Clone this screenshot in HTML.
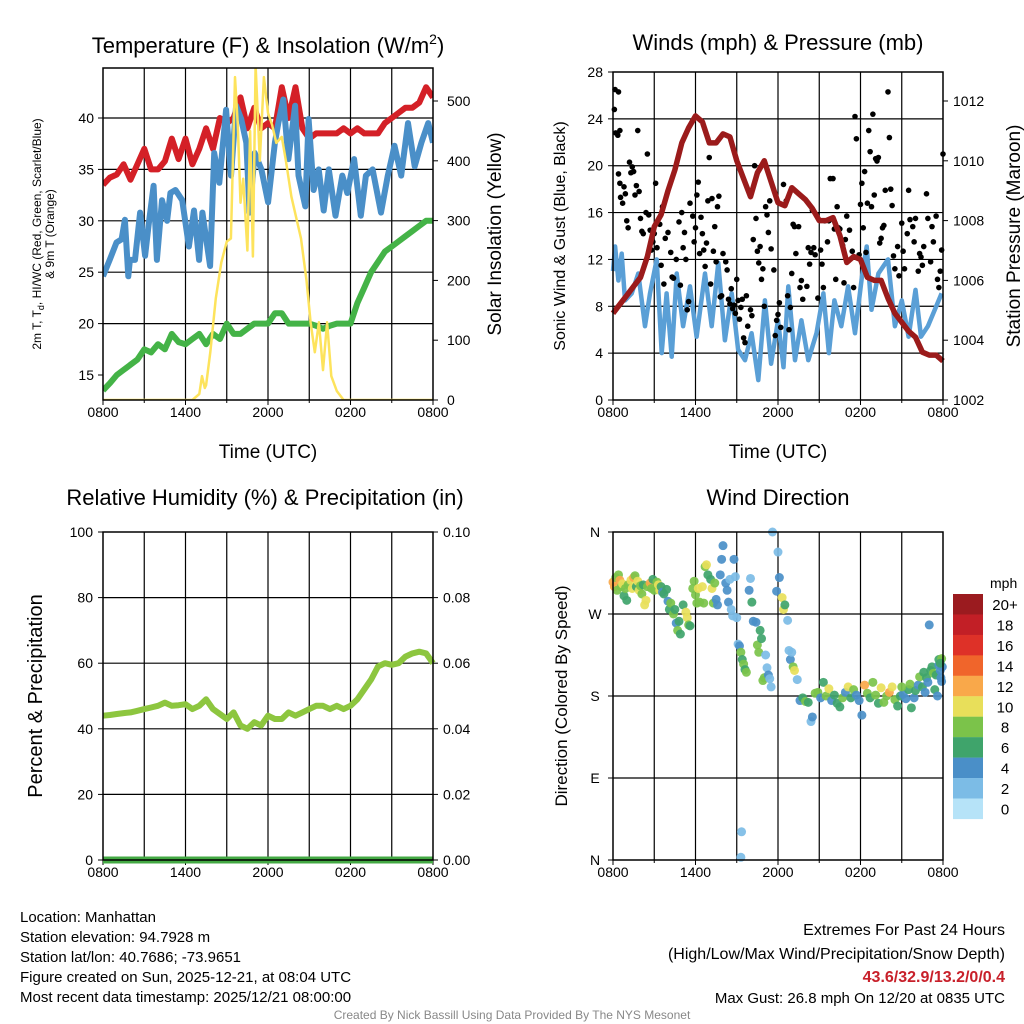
<!DOCTYPE html>
<html><head><meta charset="utf-8"><style>
body{margin:0;background:#fff;}
svg{display:block;font-family:"Liberation Sans",Arial,sans-serif;}
</style></head><body>
<svg id="c" width="1024" height="1024" viewBox="0 0 1024 1024" xmlns="http://www.w3.org/2000/svg"></svg>
<script>
// ---- data ----
const hours = [0,0.5,1,1.5,2,2.5,3,3.5,4,4.5,5,5.5,6,6.5,7,7.5,8,8.5,9,9.5,10,10.5,11,11.5,12,12.5,13,13.5,14,14.5,15,15.5,16,16.5,17,17.5,18,18.5,19,19.5,20,20.5,21,21.5,22,22.5,23,23.5,24];
const tempRed = [33.5,34.2,34.5,35.5,34,35.5,37,35,35,35.8,38,36,38,35.5,37,39,37,40,39.5,40,42,39,41,39,39.5,39,43,40,43,39,38,38.5,38.5,38.5,38.5,39,38.5,39,38.5,38.5,38.5,39.5,40,40.5,41,41,41.5,43,42];
const blueHours = [0,0.49,0.98,1.35,1.59,1.84,1.96,2.33,2.7,3.06,3.31,3.68,3.92,4.29,4.66,4.9,5.27,5.76,6.25,6.62,6.99,7.23,7.79,8.09,8.46,8.95,9.31,9.68,10.05,10.42,10.66,11.03,11.52,12.01,12.5,12.75,13.11,13.48,13.97,14.22,14.71,14.95,15.32,15.69,16.05,16.42,16.91,17.4,17.77,18.26,18.75,19.12,19.61,20.22,20.71,21.2,21.69,22.18,22.67,23.16,23.65,24];
const tempBlue = [24.6,26.2,27.9,28.2,30.1,24.6,26.2,26.2,30.8,26.6,29.5,33.4,26.2,32,30,32.7,33,32,27.5,31,26.2,30.8,25.6,36.6,33.7,40.8,34.4,41.2,39.9,37.6,30.8,36.6,35,31.8,37.6,39.5,41.8,36,41.2,34.4,31.4,39.9,33,35,31,35,30.5,34.4,32.7,36,30.5,34.4,35,30.8,34.4,37.3,34.4,39.5,35.3,37.6,39.5,37.6];
const tempGreen = [13.5,14.2,15,15.5,16,16.5,17.5,17.2,18,17.5,19,18.2,18,18.5,19,18,19,18.5,20,19,19,19.5,20,20,20,21,21,20,20,20,20,19.8,19.5,19.8,20,20,20,22,23.5,25,26,27,27.5,28,28.5,29,29.5,30,30];
const solarHours = [0,6.5,7.0,7.2,7.4,7.5,7.8,8.2,8.6,9.0,9.3,9.4,9.6,9.8,10.0,10.2,10.5,10.7,10.9,11.1,11.4,11.7,12.0,12.3,12.6,13.0,13.3,13.7,14.1,14.4,14.8,15.1,15.4,15.7,16.0,16.3,16.6,17.0,17.5,24];
const solar = [0,0,10,40,20,25,80,170,230,265,270,360,540,460,330,370,250,450,240,560,400,540,480,460,430,440,400,340,300,270,200,130,80,130,50,130,40,15,0,0];
const windHours = [0,0.15,0.39,0.63,0.87,1.36,1.84,2.33,2.69,3.18,3.54,3.9,4.27,4.63,5.1,5.6,6.08,6.69,7.18,7.66,8.14,8.63,9.1,9.6,10.08,10.57,11.05,11.5,12.0,12.4,12.75,13.24,13.7,14.2,14.8,15.3,15.7,16.1,16.6,17.1,17.6,18.1,18.45,18.8,19.3,20.0,20.5,21.0,21.5,22.0,22.4,22.9,23.4,23.9];
const windBlue = [11,13.1,10.2,12.5,8.5,9.1,10.8,6.3,9.1,12,4,9.1,3.7,10.8,6.3,9.7,5.4,10.8,6.3,11.7,5.1,9.1,4.3,3.4,5.7,1.7,8.5,3.1,6.8,2.8,9.7,3.4,6.8,3.4,5.7,9.1,4,8.5,6.3,9.7,5.7,10.5,13.1,7.7,10.8,12,6.3,8.5,5.4,9.4,5.4,6.3,7.7,9.1];
const pressure = [1004.9,1005.2,1005.5,1005.8,1006.1,1006.8,1007.8,1008.2,1009.0,1009.7,1010.6,1011.1,1011.5,1011.3,1010.6,1010.6,1010.9,1010.8,1010.0,1009.4,1008.8,1009.6,1010.0,1009.3,1008.6,1008.5,1009.1,1008.9,1008.7,1008.4,1008.0,1008.0,1008.1,1007.5,1006.6,1006.8,1006.7,1006.1,1006.0,1006.0,1005.4,1004.9,1004.6,1004.3,1004.1,1003.6,1003.5,1003.5,1003.3];
const gusts = [[0.1,24.8],[0.15,26.5],[0.4,26.3],[0.2,22.8],[0.35,22.6],[0.5,23],[0.4,19.3],[0.5,18.5],[0.55,17.3],[0.7,16.8],[0.8,18.2],[0.9,17.6],[1.0,15.3],[1.1,14.7],[1.2,20.3],[1.3,19.4],[1.4,19.9],[1.5,19.5],[1.6,17.5],[1.7,18.3],[1.8,23],[1.9,17.8],[2.0,15.5],[2.1,14.4],[2.2,14.2],[2.4,16],[2.5,21],[2.6,15.8],[2.7,14.5],[2.8,12.8],[2.9,13.5],[3.0,14.2],[3.1,18.5],[3.2,13],[3.4,15],[3.5,11.5],[3.6,16.5],[3.7,9.9],[3.8,13.8],[4.0,14.3],[4.2,12.6],[4.3,10.5],[4.4,10.4],[4.6,12],[4.8,15.2],[4.9,9.8],[5.0,16],[5.1,13],[5.2,14.3],[5.3,12],[5.4,7.7],[5.5,8.4],[5.6,16.8],[5.8,15.7],[5.9,13.5],[6.0,14.7],[6.1,17.5],[6.2,18.6],[6.3,12.5],[6.4,15.6],[6.5,14.2],[6.6,12.8],[6.7,11.4],[6.8,13.4],[6.9,17],[7.0,20.7],[7.1,9.9],[7.2,17.2],[7.3,12.7],[7.4,14.8],[7.5,11.8],[7.6,16.5],[7.7,17.4],[7.8,8.8],[7.9,8.9],[8.0,12.5],[8.2,11.8],[8.3,11.1],[8.4,8.6],[8.5,8.2],[8.6,9.5],[8.7,7.8],[8.8,8.1],[8.9,7.4],[9.0,10.3],[9.1,8.5],[9.2,6.9],[9.3,7.9],[9.4,8.6],[9.5,5.3],[9.6,4.9],[9.7,8.9],[9.8,6.3],[10.0,7.7],[10.1,7.2],[10.2,13.7],[10.3,20],[10.4,15.5],[10.5,12.7],[10.6,11.7],[10.7,13.1],[10.8,10.3],[10.9,11.2],[11.0,8],[11.1,16.5],[11.2,15.8],[11.3,14.3],[11.4,17],[11.5,12.9],[11.7,11.1],[11.8,5.5],[11.9,6.8],[12.0,7.3],[12.1,8.3],[12.2,6.2],[12.4,18.4],[12.6,17],[12.7,8.9],[12.8,6],[12.9,7.9],[13.0,10.8],[13.1,15],[13.2,14.8],[13.3,12.5],[13.5,14.8],[13.6,9.6],[13.7,10.2],[13.8,8.6],[14.1,9.7],[14.2,13],[14.3,11.6],[14.4,12.6],[14.5,16.2],[14.6,13],[14.7,12.4],[14.8,15.8],[14.9,8.7],[15.1,12.8],[15.2,11.6],[15.3,9.6],[15.4,15.3],[15.6,13.5],[15.7,15.3],[15.8,18.9],[16.0,18.9],[16.1,14.6],[16.2,10.3],[16.3,16.5],[16.4,14.7],[16.5,14.6],[16.7,13.2],[16.8,10],[16.9,13.7],[17.0,15.7],[17.2,14.5],[17.4,12.7],[17.5,9.6],[17.6,24.2],[17.7,22.3],[17.9,12.4],[18.0,16.7],[18.1,18.5],[18.2,14.7],[18.3,19.5],[18.4,12.6],[18.5,16.8],[18.6,23],[18.7,21.2],[18.8,16.5],[18.9,24.4],[19.0,17.5],[19.1,20.6],[19.2,20.4],[19.3,20.7],[19.4,13.4],[19.5,13.8],[19.6,14.7],[19.7,14.9],[19.8,17.9],[20.0,26.3],[20.1,22.4],[20.2,18],[20.3,16.6],[20.4,12.3],[20.5,11.2],[20.7,13.1],[20.8,10.6],[21.0,15.1],[21.1,12.7],[21.2,11.2],[21.4,14.2],[21.5,17.9],[21.6,15.4],[21.8,14.8],[21.9,13.5],[22.0,15.5],[22.2,11],[22.3,12.5],[22.4,12.2],[22.5,11.5],[22.6,13.1],[22.8,17.6],[22.9,15.5],[23.1,11.8],[23.2,14.8],[23.3,13.5],[23.5,15.7],[23.6,10.3],[23.7,9.6],[23.8,11],[23.9,12.8],[24.0,21]];
const rh = [44,44.2,44.5,44.8,45,45.5,46,46.5,47,48,47,47.2,47.5,46,47,49,46,44.5,43,45,41,40,42,41,44,43,43,45,44,45,46,47,47,46,47,46,47,49,52,55,59,60,59.5,60,62,63,63.5,63,60];
const precip = [0,0,0,0,0,0,0,0,0,0,0,0,0,0,0,0,0,0,0,0,0,0,0,0,0,0,0,0,0,0,0,0,0,0,0,0,0,0,0,0,0,0,0,0,0,0,0,0,0];
const dirs = [[0.0,305,12],[0.1,300,13],[0.2,310,8],[0.3,296,9],[0.4,313,8],[0.5,307,13],[0.6,300,8],[0.7,303,10],[0.8,290,7],[0.9,298,8],[1.0,285,7],[1.1,302,9],[1.3,307,10],[1.4,298,11],[1.5,310,12],[1.6,312,8],[1.7,300,7],[1.8,306,10],[1.9,296,10],[2.0,301,8],[2.1,292,8],[2.2,302,7],[2.3,280,10],[2.4,285,10],[2.5,300,9],[2.7,304,13],[2.8,298,8],[2.9,308,7],[3.0,296,9],[3.2,305,8],[3.3,302,10],[3.4,296,10],[3.5,300,7],[3.6,294,5],[3.7,292,6],[3.9,297,6],[4.0,284,4],[4.1,275,6],[4.2,282,8],[4.4,270,8],[4.5,275,6],[4.6,260,4],[4.7,252,8],[4.8,262,6],[4.9,248,6],[5.1,280,6],[5.3,272,10],[5.4,266,10],[5.5,258,8],[5.6,257,6],[5.8,298,8],[5.9,306,8],[6.0,291,8],[6.1,282,8],[6.2,298,10],[6.3,283,8],[6.5,300,10],[6.6,282,8],[6.7,322,8],[6.8,324,10],[6.9,313,6],[7.1,308,6],[7.2,298,10],[7.3,282,8],[7.4,304,8],[7.5,286,4],[7.6,280,4],[7.8,313,4],[7.9,330,4],[8.0,345,4],[8.2,304,4],[8.3,296,4],[8.4,283,4],[8.5,308,2],[8.6,275,2],[8.7,268,2],[8.8,330,4],[8.9,311,2],[9.0,266,2],[9.1,237,2],[9.2,235,4],[9.3,228,8],[9.4,220,6],[9.5,215,8],[9.6,209,6],[9.7,206,8],[9.9,296,4],[10.0,309,2],[10.1,283,6],[10.2,262,4],[10.4,261,4],[10.5,236,8],[10.6,228,8],[10.7,252,6],[10.8,243,6],[10.9,197,8],[11.0,200,8],[11.1,225,2],[11.2,211,2],[11.3,203,4],[11.4,199,2],[11.5,190,2],[11.6,360,2],[11.9,295,4],[12.0,338,2],[12.1,310,4],[12.3,288,10],[12.4,275,10],[12.5,280,6],[12.7,263,2],[12.8,230,2],[12.9,220,4],[13.0,228,2],[13.1,212,8],[13.2,208,10],[13.4,198,2],[9.35,31,2],[9.3,3,2],
[13.6,175,4],[13.8,178,6],[14.0,174,8],[14.2,173,6],[14.4,152,2],[14.5,157,4],[14.7,183,8],[14.9,184,8],[15.1,178,4],[15.3,195,6],[15.5,180,8],[15.7,188,10],[15.9,175,4],[16.1,181,6],[16.3,172,6],[16.5,168,6],[16.7,178,8],[16.9,184,4],[17.1,190,10],[17.3,178,6],[17.5,187,8],[17.7,181,4],[17.9,175,4],[18.1,159,4],[18.3,192,12],[18.5,183,8],[18.7,178,6],[18.9,195,8],[19.1,181,8],[19.3,172,6],[19.5,189,10],[19.7,173,8],[19.9,180,8],[20.1,184,12],[20.3,190,10],[20.5,176,8],[20.7,169,6],[20.9,180,6],[21.1,182,4],[21.3,177,4],[21.5,187,6],[21.6,193,8],[21.7,167,6],[21.9,178,4],[22.0,186,6],[22.2,192,4],[22.3,201,8],[22.5,190,6],[22.7,184,4],[22.8,200,6],[22.9,195,4],[23.0,258,4],[23.1,208,6],[23.2,212,6],[23.3,205,8],[23.4,187,6],[23.5,203,6],[23.6,180,4],[23.7,214,4],[23.8,208,4],[23.85,200,4],[23.9,196,4],[23.7,220,6],[23.9,221,8],[23.95,212,4],[23.8,216,6],[22.6,206,6],[21.0,190,8]];
const xTickLabels = ["0800","1400","2000","0200","0800"];
const tempTicks = [15,20,25,30,35,40];
const solarTicks = [0,100,200,300,400,500];
const windTicks = [0,4,8,12,16,20,24,28];
const presTicks = [1002,1004,1006,1008,1010,1012];
const rhTicks = [0,20,40,60,80,100];
const precipTicks = ["0.00","0.02","0.04","0.06","0.08","0.10"];
const dirTicks = ["N","E","S","W","N"];
const cbLabels = ["20+","18","16","14","12","10","8","6","4","2","0"];
const cbColors = ["#9b1b1f","#c21f26","#de3128","#f0652b","#f9a84a","#e8df5a","#7bc34a","#3fa46b","#4a8fc8","#7cbce6","#b6e3f8"];

// ---- drawing ----
const svg = document.getElementById('c');
const NS = 'http://www.w3.org/2000/svg';
function el(tag, attrs, parent){const e=document.createElementNS(NS,tag);for(const k in attrs)e.setAttribute(k,attrs[k]);(parent||svg).appendChild(e);return e;}
function txt(s,x,y,size,anchor,parent,extra){const t=el('text',Object.assign({x:x,y:y,'font-size':size,'text-anchor':anchor||'middle',fill:'#000'},extra||{}),parent);t.textContent=s;return t;}
function lin(d0,d1,r0,r1){return v=>r0+(v-d0)*(r1-r0)/(d1-d0);}

function panel(name,x0,x1,y0,y1,hGridVals,yS){
  const g=el('g',{});
  
  
  const xs=lin(0,24,x0,x1);
  for(let h=3;h<24;h+=3) el('line',{x1:xs(h),x2:xs(h),y1:y0,y2:y1,stroke:'#000','stroke-width':1.2},g);
  hGridVals.forEach(v=>el('line',{x1:x0,x2:x1,y1:yS(v),y2:yS(v),stroke:'#000','stroke-width':1.2},g));
  for(let h=0;h<=24;h+=3) el('line',{x1:xs(h),x2:xs(h),y1:y1,y2:y1+(h%6==0?5:3),stroke:'#000','stroke-width':1},g);
  xTickLabels.forEach((s,i)=>{const t=txt(s,xs(i*6),y1+17,14,'middle',g);});
  return {g,xs};
}
function frame(g,x0,x1,y0,y1){el('rect',{x:x0,y:y0,width:x1-x0,height:y1-y0,fill:'none',stroke:'#000','stroke-width':1.5},g);}
function pathOf(xsArr,ysArr,xs,ys){return xsArr.map((h,i)=>(i?'L':'M')+xs(h).toFixed(1)+','+ys(ysArr[i]).toFixed(1)).join(' ');}

// Panel 1
{
  const X0=103,X1=433,Y0=68,Y1=400;
  const ty=lin(15,40,375,118), sy=lin(0,500,400,101);
  const p=panel('temperature-panel',X0,X1,Y0,Y1,[20,25,30,35,40],ty);
  const g=p.g, xs=p.xs;
  const cp=el('clipPath',{id:'cp1'},g); el('rect',{x:X0,y:Y0,width:X1-X0,height:Y1-Y0},cp);
  const mk=(arr,col,w,nm,hx,yf)=>{const e=el('path',{d:pathOf(hx||hours,arr,xs,yf||ty),fill:'none',stroke:col,'stroke-width':w,'stroke-linejoin':'round','clip-path':'url(#cp1)'},g);};
  mk(tempGreen,'#44b347',6,'dewpoint-line');
  mk(tempRed,'#d42027',6,'temperature-line');
  mk(tempBlue,'#4a8fc8',6,'windchill-line',blueHours);
  mk(solar,'#fde35c',2.5,'solar-line',solarHours,sy);
  frame(g,X0,X1,Y0,Y1);
  tempTicks.forEach(v=>{el('line',{x1:X0-5,x2:X0,y1:ty(v),y2:ty(v),stroke:'#000'},g);const t=txt(v,X0-9,ty(v)+5,14,'end',g);});
  solarTicks.forEach(v=>{el('line',{x1:X1,x2:X1+5,y1:sy(v),y2:sy(v),stroke:'#000'},g);const t=txt(v,X1+14,sy(v)+5,14,'start',g);});
  const t1=txt('',268,53,22,'middle',g);t1.innerHTML='Temperature (F) &amp; Insolation (W/m<tspan dy="-9" font-size="14">2</tspan><tspan dy="9">)</tspan>';
  
  const xl=txt('Time (UTC)',268,458,19,'middle',g);
  const yl=el('text',{transform:'translate(41,234) rotate(-90)','font-size':12,'text-anchor':'middle'},g);yl.innerHTML='2m T, T<tspan dy="3" font-size="9">d</tspan><tspan dy="-3">, HI/WC (Red, Green, Scarlet/Blue)</tspan>';
  
  const yl2=txt('& 9m T (Orange)',0,0,12,'middle',g,{transform:'translate(54,234) rotate(-90)'});
  const yr=txt('Solar Insolation (Yellow)',0,0,19,'middle',g,{transform:'translate(501,234) rotate(-90)'});
}
// Panel 2
{
  const X0=613,X1=943,Y0=72,Y1=400;
  const wy=lin(0,28,400,72), py=lin(1002,1012,400,101);
  const p=panel('winds-panel',X0,X1,Y0,Y1,[4,8,12,16,20,24],wy);
  const g=p.g, xs=p.xs;
  const w=el('path',{d:pathOf(windHours,windBlue,xs,wy),fill:'none',stroke:'#5a9fd6','stroke-width':4.5,'stroke-linejoin':'round'},g);
  
  gusts.forEach(d=>{const c=el('circle',{cx:xs(d[0]),cy:wy(d[1]),r:2.8,fill:'#000'},g);});
  const pr=el('path',{d:pathOf(hours,pressure,xs,py),fill:'none',stroke:'#9b1b1b','stroke-width':5.5,'stroke-linejoin':'round'},g);
  
  frame(g,X0,X1,Y0,Y1);
  windTicks.forEach(v=>{el('line',{x1:X0-5,x2:X0,y1:wy(v),y2:wy(v),stroke:'#000'},g);const t=txt(v,X0-10,wy(v)+5,14,'end',g);});
  presTicks.forEach(v=>{el('line',{x1:X1,x2:X1+5,y1:py(v),y2:py(v),stroke:'#000'},g);const t=txt(v,X1+10,py(v)+5,14,'start',g);});
  const t1=txt('Winds (mph) & Pressure (mb)',778,50,22,'middle',g);
  const xl=txt('Time (UTC)',778,458,19,'middle',g);
  const yl=txt('Sonic Wind & Gust (Blue, Black)',0,0,16,'middle',g,{transform:'translate(565,236) rotate(-90)'});
  const yr=txt('Station Pressure (Maroon)',0,0,19,'middle',g,{transform:'translate(1020,236) rotate(-90)'});
}
// Panel 3
{
  const X0=103,X1=433,Y0=532,Y1=860;
  const ry=lin(0,100,860,532), qy=lin(0,0.1,860,532);
  const p=panel('humidity-panel',X0,X1,Y0,Y1,[20,40,60,80],ry);
  const g=p.g, xs=p.xs;
  const r=el('path',{d:pathOf(hours,rh,xs,ry),fill:'none',stroke:'#8dc63f','stroke-width':6,'stroke-linejoin':'round'},g);
  
  const q=el('path',{d:pathOf(hours,precip,xs,qy),fill:'none',stroke:'#44a944','stroke-width':7},g);
  
  frame(g,X0,X1,Y0,Y1);
  rhTicks.forEach(v=>{el('line',{x1:X0-5,x2:X0,y1:ry(v),y2:ry(v),stroke:'#000'},g);const t=txt(v,X0-10,ry(v)+5,14,'end',g);});
  precipTicks.forEach((s,i)=>{const y=lin(0,5,860,532)(i);el('line',{x1:X1,x2:X1+5,y1:y,y2:y,stroke:'#000'},g);const t=txt(s,X1+10,y+5,14,'start',g);});
  const t1=txt('Relative Humidity (%) & Precipitation (in)',265,505,22,'middle',g);
  const yl=txt('Percent & Precipitation',0,0,20,'middle',g,{transform:'translate(42,696) rotate(-90)'});
}
// Panel 4
{
  const X0=613,X1=943,Y0=532,Y1=860;
  const dy=lin(0,360,860,532);
  const p=panel('wind-direction-panel',X0,X1,Y0,Y1,[90,180,270],dy);
  const g=p.g, xs=p.xs;
  const colFor=s=>{let i=Math.floor(s/2);if(i>10)i=10;return cbColors[10-i];};
  dirs.forEach(d=>{const c=el('circle',{cx:xs(d[0]),cy:dy(d[1]),r:4.5,fill:colFor(d[2]),opacity:0.92},g);});
  frame(g,X0,X1,Y0,Y1);
  dirTicks.forEach((s,i)=>{const y=dy(i*90);el('line',{x1:X0-5,x2:X0,y1:y,y2:y,stroke:'#000'},g);const t=txt(s,X0-18,y+5,14,'middle',g);});
  const t1=txt('Wind Direction',778,505,22,'middle',g);
  const yl=txt('Direction (Colored By Speed)',0,0,17,'middle',g,{transform:'translate(567,696) rotate(-90)'});
  const cb=el('g',{},svg);
  
  const ut=txt('mph',990,588,14,'start',cb);
  cbColors.forEach((c,i)=>{const y=594+i*20.45;const r=el('rect',{x:953,y:y,width:30,height:20.6,fill:c},cb);
    const t=txt(cbLabels[i],1005,y+16,15,'middle',cb);});
}
// Footer
{
  const f=el('g',{},svg);
  
  ["Location: Manhattan","Station elevation: 94.7928 m","Station lat/lon: 40.7686; -73.9651","Figure created on Sun, 2025-12-21, at 08:04 UTC","Most recent data timestamp: 2025/12/21 08:00:00"].forEach((s,i)=>{const t=txt(s,20,922+i*20,15,'start',f);});
  const r1=txt('Extremes For Past 24 Hours',1005,935,16,'end',f);
  const r2=txt('(High/Low/Max Wind/Precipitation/Snow Depth)',1005,959,16,'end',f);
  const r3=txt('43.6/32.9/13.2/0/0.4',1005,982,16,'end',f,{fill:'#c8202a','font-weight':'bold'});
  const r4=txt('Max Gust: 26.8 mph On 12/20 at 0835 UTC',1005,1003,15,'end',f);
  const cr=txt('Created By Nick Bassill Using Data Provided By The NYS Mesonet',512,1019,12,'middle',f,{fill:'#888'});
}
</script>
</body></html>
